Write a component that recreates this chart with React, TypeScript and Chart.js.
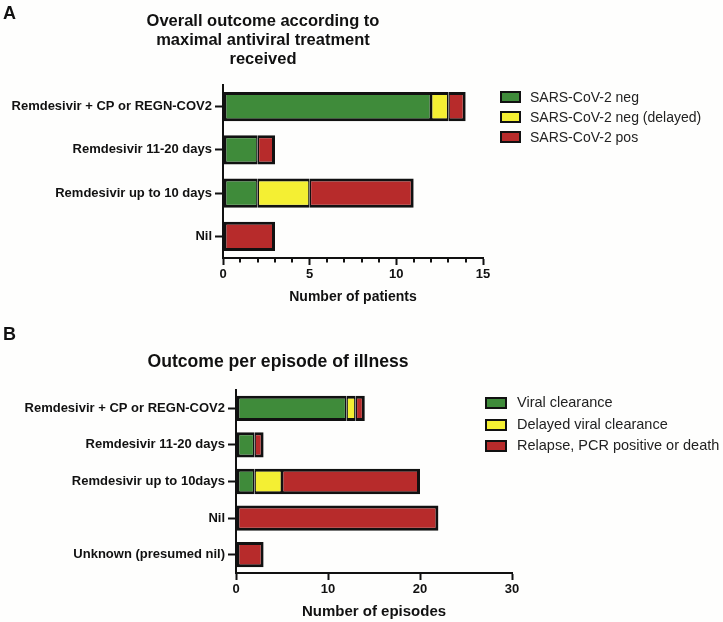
import React, { useEffect, useRef } from 'react';
import { Chart, registerables } from 'chart.js';

Chart.register(...registerables);

const FONT = '"Liberation Sans", Arial, Helvetica, sans-serif';
const GREEN = '#3f8b3a';
const YELLOW = '#f4ef33';
const RED = '#b72b2b';
const COLORS = [GREEN, YELLOW, RED];

// Panel A
const titleA = ['Overall outcome according to', 'maximal antiviral treatment', 'received'];
const categoriesA = ['Remdesivir + CP or REGN-COV2', 'Remdesivir 11-20 days', 'Remdesivir up to 10 days', 'Nil'];
const negA = [12, 2, 2, 0];
const negDelayedA = [1, 0, 3, 0];
const posA = [1, 1, 6, 3];
const seriesNamesA = ['SARS-CoV-2 neg', 'SARS-CoV-2 neg (delayed)', 'SARS-CoV-2 pos'];
const xTicksA = [0, 5, 10, 15];
const xMinorTicksA = [1, 2, 3, 4, 6, 7, 8, 9, 11, 12, 13, 14];
const xTitleA = 'Number of patients';

// Panel B
const titleB = ['Outcome per episode of illness'];
const categoriesB = ['Remdesivir + CP or REGN-COV2', 'Remdesivir 11-20 days', 'Remdesivir up to 10days', 'Nil', 'Unknown (presumed nil)'];
const clearanceB = [12, 2, 2, 0, 0];
const delayedB = [1, 0, 3, 0, 0];
const relapseB = [1, 1, 15, 22, 3];
const seriesNamesB = ['Viral clearance', 'Delayed viral clearance', 'Relapse, PCR positive or death'];
const xTicksB = [0, 10, 20, 30];
const xMinorTicksB: number[] = [];
const xTitleB = 'Number of episodes';

type Area = { left: number; right: number; top: number; bottom: number };

const BW = 3;

function makeConfig(
  categories: string[],
  series: number[][],
  names: string[],
  xTicks: number[],
  minorTicks: number[],
  xTitle: string,
  area: Area,
  height: number,
  barPct: number,
  titleSize: number,
  titlePadBottom: number
): any {
  const minorPlugin = {
    id: 'minorTicks',
    afterDraw(chart: any) {
      const sx = chart.scales.x;
      const ctx = chart.ctx;
      ctx.save();
      ctx.strokeStyle = '#111';
      ctx.lineWidth = 2;
      minorTicks.forEach((v) => {
        const px = Math.round(sx.getPixelForValue(v));
        ctx.beginPath();
        ctx.moveTo(px, sx.top);
        ctx.lineTo(px, sx.top + 4.5);
        ctx.stroke();
      });
      ctx.restore();
    },
  };
  const borderFor = (c: any) => {
    const i = c.dataIndex;
    const ds = c.datasetIndex;
    const before = series.slice(0, ds).some((s) => s[i] > 0);
    const after = series.slice(ds + 1).some((s) => s[i] > 0);
    return { top: BW, bottom: BW, left: before ? BW / 2 : BW, right: after ? BW / 2 : BW };
  };
  return {
    type: 'bar',
    data: {
      labels: categories,
      datasets: series.map((d, i) => ({
        label: names[i],
        // empty segments are left out so they draw no border
        data: d.map((v) => (v === 0 ? null : v)),
        backgroundColor: COLORS[i],
        borderColor: '#111',
        borderWidth: borderFor,
        borderSkipped: false,
        categoryPercentage: 1,
        barPercentage: barPct,
      })),
    },
    options: {
      indexAxis: 'y',
      responsive: false,
      animation: false,
      maintainAspectRatio: false,
      layout: { padding: { left: 0, top: area.top, right: 723 - area.right, bottom: 0 } },
      plugins: { legend: { display: false }, title: { display: false }, tooltip: { enabled: false } },
      scales: {
        x: {
          type: 'linear',
          stacked: true,
          min: xTicks[0],
          max: xTicks[xTicks.length - 1],
          afterBuildTicks: (s: any) => {
            s.ticks = xTicks.map((v) => ({ value: v }));
          },
          afterFit: (s: any) => {
            s.height = height - area.bottom;
          },
          border: { display: true, color: '#111', width: 2 },
          grid: { drawOnChartArea: false, drawTicks: true, tickLength: 7, color: '#111', tickWidth: 2, tickColor: '#111' },
          ticks: { color: '#111', padding: 2, font: { family: FONT, size: 13, weight: 'bold' }, maxRotation: 0 },
          title: {
            display: true,
            text: xTitle,
            color: '#111',
            font: { family: FONT, size: titleSize, weight: 'bold' },
            padding: { top: 0, bottom: titlePadBottom },
          },
        },
        y: {
          type: 'category',
          stacked: true,
          afterFit: (s: any) => {
            s.width = area.left;
          },
          border: { display: true, color: '#111', width: 2 },
          grid: {
            offset: false,
            drawOnChartArea: false,
            drawTicks: true,
            tickLength: 8,
            color: '#111',
            tickWidth: 2,
            tickColor: '#111',
          },
          ticks: { color: '#111', padding: 3, font: { family: FONT, size: 13, weight: 'bold' }, autoSkip: false },
        },
      },
    },
    plugins: [minorPlugin],
  };
}

function ChartCanvas({ config, top, height }: { config: any; top: number; height: number }) {
  const ref = useRef<HTMLCanvasElement | null>(null);
  useEffect(() => {
    if (!ref.current) return;
    const chart = new Chart(ref.current, config);
    return () => chart.destroy();
  }, [config]);
  return (
    <canvas
      ref={ref}
      width={723}
      height={height}
      style={{ position: 'absolute', left: 0, top, width: 723, height, display: 'block' }}
    />
  );
}

function Legend({
  names,
  left,
  textLeft,
  centers,
  swW,
  fontSize,
}: {
  names: string[];
  left: number;
  textLeft: number;
  centers: number[];
  swW: number;
  fontSize: number;
}) {
  return (
    <>
      {names.map((n, i) => (
        <React.Fragment key={n}>
          <div
            style={{
              position: 'absolute',
              left,
              top: centers[i] - 6,
              width: swW,
              height: 12,
              boxSizing: 'border-box',
              border: '2.5px solid #111',
              background: COLORS[i],
            }}
          />
          <div
            style={{
              position: 'absolute',
              left: textLeft,
              top: centers[i] - fontSize * 0.6,
              lineHeight: `${fontSize * 1.2}px`,
              fontFamily: FONT,
              fontSize,
              color: '#222',
              whiteSpace: 'nowrap',
            }}
          >
            {n}
          </div>
        </React.Fragment>
      ))}
    </>
  );
}

const HA = 308;
const HB = 314;
const configA = makeConfig(
  categoriesA,
  [negA, negDelayedA, posA],
  seriesNamesA,
  xTicksA,
  xMinorTicksA,
  xTitleA,
  { left: 223, right: 483, top: 85, bottom: 258 },
  HA,
  0.68,
  14,
  2.6
);
const configB = makeConfig(
  categoriesB,
  [clearanceB, delayedB, relapseB],
  seriesNamesB,
  xTicksB,
  xMinorTicksB,
  xTitleB,
  { left: 236, right: 512, top: 390 - HA, bottom: 573 - HA },
  HB,
  0.69,
  15,
  1
);

export default function App() {
  return (
    <div
      style={{
        position: 'absolute',
        left: 0,
        top: 0,
        width: 723,
        height: 622,
        background: '#fefefd',
        overflow: 'hidden',
        fontFamily: FONT,
      }}
    >
      <ChartCanvas config={configA} top={0} height={HA} />
      <ChartCanvas config={configB} top={HA} height={HB} />
      <div style={{ position: 'absolute', left: 3, top: 1, fontSize: 18, fontWeight: 'bold', color: '#111', lineHeight: '24px' }}>A</div>
      <div style={{ position: 'absolute', left: 3, top: 322, fontSize: 18, fontWeight: 'bold', color: '#111', lineHeight: '24px' }}>B</div>
      <div
        style={{
          position: 'absolute',
          left: 63,
          top: 10.5,
          width: 400,
          textAlign: 'center',
          fontSize: 16.5,
          lineHeight: '19px',
          fontWeight: 'bold',
          color: '#111',
        }}
      >
        {titleA.map((t) => (
          <div key={t}>{t}</div>
        ))}
      </div>
      <div
        style={{
          position: 'absolute',
          left: 78,
          top: 350,
          width: 400,
          textAlign: 'center',
          fontSize: 17.6,
          lineHeight: '22px',
          fontWeight: 'bold',
          color: '#111',
        }}
      >
        {titleB.map((t) => (
          <div key={t}>{t}</div>
        ))}
      </div>
      <Legend names={seriesNamesA} left={500} textLeft={530} centers={[97, 117, 137]} swW={21} fontSize={14} />
      <Legend names={seriesNamesB} left={485} textLeft={517} centers={[403, 424.5, 446]} swW={22} fontSize={14.5} />
    </div>
  );
}
